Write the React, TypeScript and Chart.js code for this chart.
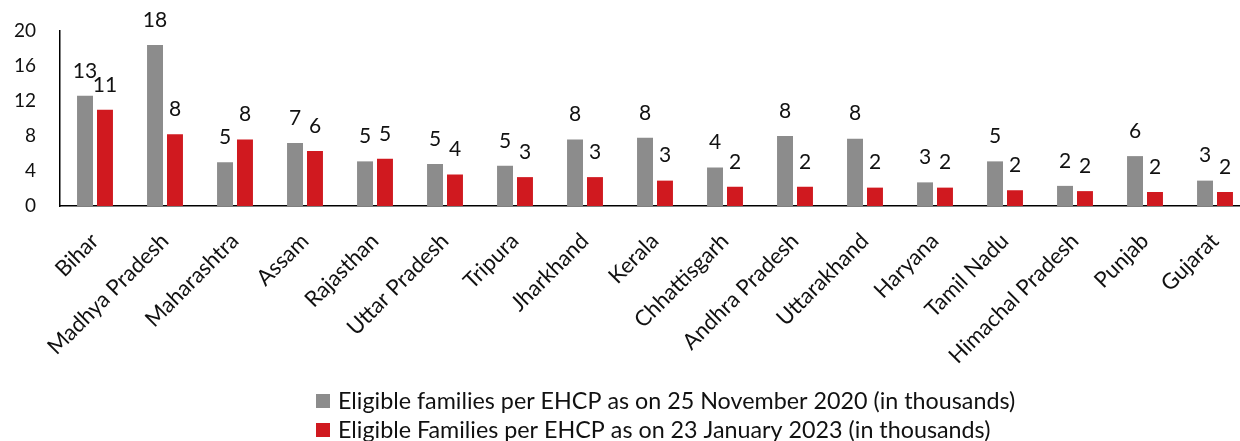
import React, { useEffect, useRef } from "react";
import { Chart, registerables } from "chart.js";

Chart.register(...registerables);

const categories = [
  "Bihar",
  "Madhya Pradesh",
  "Maharashtra",
  "Assam",
  "Rajasthan",
  "Uttar Pradesh",
  "Tripura",
  "Jharkhand",
  "Kerala",
  "Chhattisgarh",
  "Andhra Pradesh",
  "Uttarakhand",
  "Haryana",
  "Tamil Nadu",
  "Himachal Pradesh",
  "Punjab",
  "Gujarat",
];

const series2020 = [12.6, 18.4, 5.0, 7.2, 5.1, 4.8, 4.6, 7.6, 7.8, 4.4, 8.0, 7.7, 2.7, 5.1, 2.3, 5.7, 2.9];
const series2023 = [11.0, 8.2, 7.6, 6.3, 5.4, 3.6, 3.3, 3.3, 2.9, 2.2, 2.2, 2.1, 2.1, 1.8, 1.7, 1.6, 1.6];

const label2020 = "Eligible families per EHCP as on 25 November 2020 (in thousands)";
const label2023 = "Eligible Families per EHCP as on 23 January 2023 (in thousands)";

const yMin = 0;
const yMax = 20;
const yStep = 4;

const GRAY = "#8c8c8c";
const RED = "#d0191f";
const FONT = "Lato";

const valueLabels = {
  id: "valueLabels",
  afterDatasetsDraw(chart: any) {
    const ctx = chart.ctx;
    ctx.save();
    ctx.font = `21px ${FONT}`;
    ctx.fillStyle = "#111";
    ctx.textAlign = "center";
    ctx.textBaseline = "middle";
    chart.data.datasets.forEach((ds: any, di: number) => {
      const meta = chart.getDatasetMeta(di);
      meta.data.forEach((bar: any, i: number) => {
        const v = ds.data[i];
        ctx.fillText(String(Math.round(v)), bar.x, bar.y - 25);
      });
    });
    ctx.restore();
  },
};

const customLegend = {
  id: "customLegend",
  afterDraw(chart: any) {
    const ctx = chart.ctx;
    ctx.save();
    ctx.font = `23.3px ${FONT}`;
    ctx.textAlign = "left";
    ctx.textBaseline = "middle";
    chart.data.datasets.forEach((ds: any, i: number) => {
      const cy = 401 + i * 29;
      ctx.fillStyle = ds.backgroundColor;
      ctx.fillRect(316, cy - 7, 14, 14);
      ctx.fillStyle = "#111";
      ctx.fillText(ds.label, 338, cy);
    });
    ctx.restore();
  },
};

export default function App() {
  const canvasRef = useRef<HTMLCanvasElement | null>(null);

  useEffect(() => {
    document.documentElement.style.overflow = "hidden";
    document.body.style.overflow = "hidden";
    const canvas = canvasRef.current;
    if (!canvas) return;
    const chart = new Chart(canvas, {
      type: "bar",
      data: {
        labels: categories,
        datasets: [
          {
            label: label2020,
            data: series2020,
            backgroundColor: GRAY,
            categoryPercentage: 0.57,
            barPercentage: 0.8,
          },
          {
            label: label2023,
            data: series2023,
            backgroundColor: RED,
            categoryPercentage: 0.57,
            barPercentage: 0.8,
          },
        ],
      },
      options: {
        animation: false,
        responsive: true,
        maintainAspectRatio: false,
        layout: { padding: { top: 31, left: 0, right: 0, bottom: 0 } },
        plugins: {
          legend: { display: false },
          tooltip: { enabled: false },
        },
        scales: {
          x: {
            grid: { display: false, drawTicks: false },
            border: { color: "#000", width: 1.5 },
            ticks: {
              color: "#111",
              font: { family: FONT, size: 22 },
              minRotation: 45,
              maxRotation: 45,
              autoSkip: false,
              padding: 22,
            },
            afterFit(scale: any) {
              scale.height = 235;
              scale.paddingLeft = 0;
              scale.paddingRight = 0;
            },
          },
          y: {
            min: yMin,
            max: yMax,
            grid: { display: false, drawTicks: false },
            border: { color: "#000", width: 1.5 },
            ticks: {
              stepSize: yStep,
              color: "#111",
              font: { family: FONT, size: 19 },
              padding: 24,
            },
            afterFit(scale: any) {
              scale.width = 60;
              scale.paddingTop = 0;
              scale.paddingBottom = 0;
            },
          },
        },
      },
      plugins: [valueLabels, customLegend],
    });
    return () => chart.destroy();
  }, []);

  return (
    <div style={{ position: "fixed", left: 0, top: 0, width: 1250, height: 441, background: "#fff" }}>
      <canvas ref={canvasRef} />
    </div>
  );
}
